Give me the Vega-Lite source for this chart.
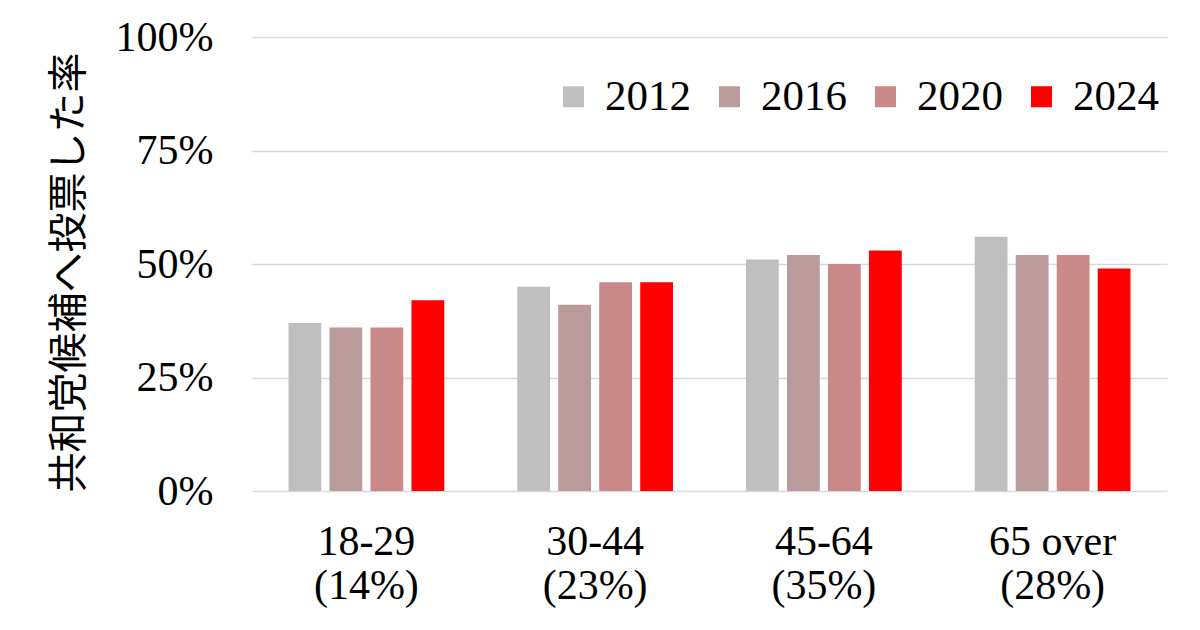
{
  "$schema": "https://vega.github.io/schema/vega-lite/v6.json",
  "autosize": {"type": "none"},
  "padding": {"left": 252, "top": 37, "right": 33, "bottom": 139},
  "width": 915,
  "height": 454,
  "background": "white",
  "data": {
    "values": [
      {"age": "18-29|(14%)", "year": "2012", "rate": 37},
      {"age": "18-29|(14%)", "year": "2016", "rate": 36},
      {"age": "18-29|(14%)", "year": "2020", "rate": 36},
      {"age": "18-29|(14%)", "year": "2024", "rate": 42},
      {"age": "30-44|(23%)", "year": "2012", "rate": 45},
      {"age": "30-44|(23%)", "year": "2016", "rate": 41},
      {"age": "30-44|(23%)", "year": "2020", "rate": 46},
      {"age": "30-44|(23%)", "year": "2024", "rate": 46},
      {"age": "45-64|(35%)", "year": "2012", "rate": 51},
      {"age": "45-64|(35%)", "year": "2016", "rate": 52},
      {"age": "45-64|(35%)", "year": "2020", "rate": 50},
      {"age": "45-64|(35%)", "year": "2024", "rate": 53},
      {"age": "65 over|(28%)", "year": "2012", "rate": 56},
      {"age": "65 over|(28%)", "year": "2016", "rate": 52},
      {"age": "65 over|(28%)", "year": "2020", "rate": 52},
      {"age": "65 over|(28%)", "year": "2024", "rate": 49}
    ]
  },
  "mark": {"type": "bar"},
  "encoding": {
    "x": {
      "field": "age",
      "type": "nominal",
      "sort": null,
      "scale": {"paddingInner": 0, "paddingOuter": 0},
      "axis": {
        "title": null,
        "labelAngle": 0,
        "labelExpr": "split(datum.label, '|')",
        "labelFont": "Liberation Serif",
        "labelFontSize": 42,
        "labelColor": "#000000",
        "labelLineHeight": 44,
        "labelBaseline": "top",
        "labelPadding": 30,
        "ticks": false,
        "domain": false
      }
    },
    "xOffset": {
      "field": "year",
      "type": "nominal",
      "scale": {"paddingInner": 0.2, "paddingOuter": 0.89}
    },
    "y": {
      "field": "rate",
      "type": "quantitative",
      "scale": {"domain": [0, 100]},
      "axis": {
        "title": "共和党候補へ投票した率",
        "titleFont": "Noto Sans CJK JP",
        "titleFontSize": 40,
        "titleFontWeight": "normal",
        "titleColor": "#000000",
        "titleAngle": -90,
        "titleX": -183,
        "titleY": 235,
        "titleAlign": "center",
        "titleBaseline": "middle",
        "values": [0, 25, 50, 75, 100],
        "labelExpr": "datum.value + '%'",
        "labelFont": "Liberation Serif",
        "labelFontSize": 42,
        "labelColor": "#000000",
        "labelPadding": 39,
        "ticks": false,
        "domain": false,
        "grid": true,
        "gridColor": "#D9D9D9",
        "gridWidth": 1.5
      }
    },
    "color": {
      "field": "year",
      "type": "nominal",
      "scale": {
        "domain": ["2012", "2016", "2020", "2024"],
        "range": ["#BFBFBF", "#BA9A9A", "#C98989", "#FF0000"]
      },
      "legend": {
        "title": null,
        "orient": "none",
        "direction": "horizontal",
        "legendX": 300,
        "legendY": 38,
        "symbolType": "square",
        "symbolSize": 441,
        "symbolStrokeWidth": 0,
        "labelFont": "Liberation Serif",
        "labelFontSize": 43,
        "labelColor": "#000000",
        "labelOffset": 10,
        "columnPadding": 17
      }
    }
  },
  "config": {
    "view": {"stroke": null}
  }
}
